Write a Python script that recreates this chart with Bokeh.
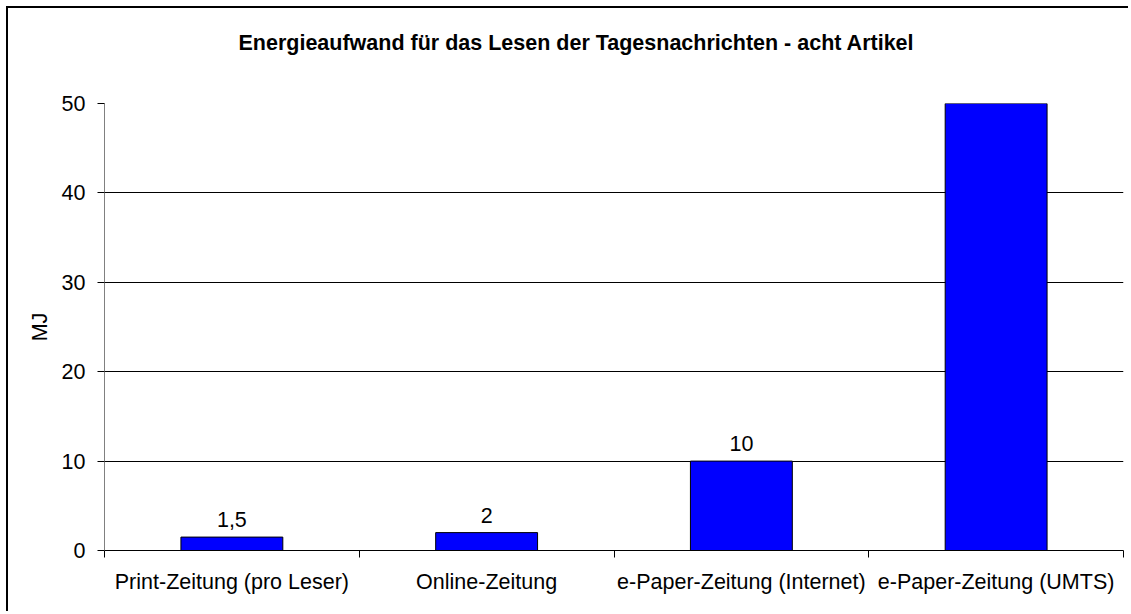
from bokeh.plotting import figure
from bokeh.models import FixedTicker, ColumnDataSource, Range1d, Title
from bokeh.core.properties import value
from bokeh.embed import file_html
from bokeh.resources import INLINE
import numpy as np

categories = ["Print-Zeitung (pro Leser)", "Online-Zeitung",
              "e-Paper-Zeitung (Internet)", "e-Paper-Zeitung (UMTS)"]
values = [1.5, 2, 10, 50]
value_labels = ["1,5", "2", "10", "50"]
y_ticks = [0, 10, 20, 30, 40, 50]
title_text = "Energieaufwand für das Lesen der Tagesnachrichten - acht Artikel"

FONT = "Liberation Sans"
FS = "21.5px"

pos = np.arange(len(categories)) + 0.5
src = ColumnDataSource(dict(x=pos, top=values, lab=value_labels))

p = figure(width=1122, height=605, output_backend="svg", toolbar_location=None,
           x_range=Range1d(0, len(categories)), y_range=Range1d(0, 50),
           min_border_left=96, min_border_top=95, min_border_bottom=63,
           min_border_right=7, title=None)
p.styles = {"margin-left": "8px", "margin-top": "8px",
            "box-shadow": "-2px -2px 0px 0px black"}
p.outline_line_color = None
p.background_fill_color = "white"
p.border_fill_color = "white"

# spacer panel (closest to the frame) then the title above it
p.add_layout(Title(text=" ", text_font_size="1px", standoff=46), "above")
p.add_layout(Title(text=title_text, align="left", offset=134, standoff=0,
                   vertical_align="bottom", text_font=FONT,
                   text_font_size="21.5px", text_font_style="bold",
                   text_color="black"), "above")

p.vbar(x="x", top="top", width=0.4, bottom=0, source=src,
       fill_color="#0000FF", line_color="black", line_width=1)

p.text(x="x", y="top", text="lab", source=src, text_align="center",
       text_baseline="bottom", y_offset=-10, text_font_size=FS,
       text_font=value(FONT), text_color="black")

# y axis
p.yaxis.ticker = FixedTicker(ticks=y_ticks)
p.yaxis.axis_label = "MJ"
p.yaxis.axis_label_text_font = FONT
p.yaxis.axis_label_text_font_size = FS
p.yaxis.axis_label_text_font_style = "normal"
p.yaxis.axis_label_text_color = "black"
p.yaxis.axis_label_standoff = 7
p.yaxis.major_label_text_font = FONT
p.yaxis.major_label_text_font_size = FS
p.yaxis.major_label_text_color = "black"
p.yaxis.major_label_standoff = 12
p.yaxis.major_tick_out = 7
p.yaxis.major_tick_in = 0
p.yaxis.minor_tick_line_color = None
p.yaxis.axis_line_color = "#808080"
p.yaxis.major_tick_line_color = "black"

# x axis: labels at category centres, ticks at boundaries
p.xaxis.ticker = FixedTicker(ticks=list(pos),
                             minor_ticks=list(range(len(categories) + 1)))
p.xaxis.major_label_overrides = {float(x): c for x, c in zip(pos, categories)}
p.xaxis.major_tick_line_color = None
p.xaxis.minor_tick_out = 7
p.xaxis.minor_tick_in = 0
p.xaxis.minor_tick_line_color = "black"
p.xaxis.axis_line_color = "black"
p.xaxis.major_label_text_font = FONT
p.xaxis.major_label_text_font_size = FS
p.xaxis.major_label_text_color = "black"
p.xaxis.major_label_standoff = 12

p.xgrid.grid_line_color = None
p.ygrid.ticker = FixedTicker(ticks=y_ticks)
p.ygrid.grid_line_color = "black"
p.ygrid.grid_line_alpha = 1.0

open("out.html", "w").write(file_html(p, INLINE))
